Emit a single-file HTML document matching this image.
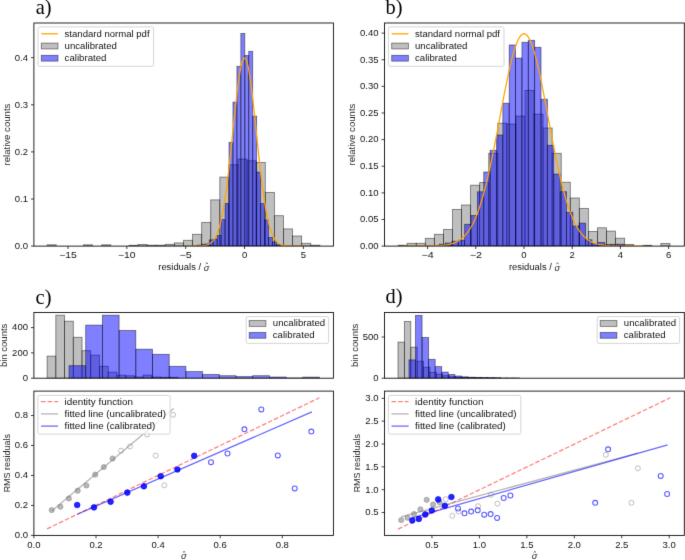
<!DOCTYPE html><html><head><meta charset="utf-8"><style>html,body{margin:0;padding:0;background:#fff;}svg{display:block;font-family:"Liberation Sans",sans-serif;}</style></head><body>
<div id="w"><svg width="685" height="560" viewBox="0 0 685 560">
<defs><filter id="soft" x="0" y="0" width="685" height="560" filterUnits="userSpaceOnUse" color-interpolation-filters="sRGB"><feConvolveMatrix order="3" kernelMatrix="0 1 0 1 8 1 0 1 0" divisor="12" edgeMode="duplicate"/></filter></defs>
<g filter="url(#soft)">
<rect width="685" height="560" fill="#fff"/>
<defs><clipPath id="ca"><rect x="33.9" y="23" width="299.5" height="223.1"/></clipPath><clipPath id="cb"><rect x="384.45" y="23" width="299.85" height="223.1"/></clipPath><clipPath id="cch"><rect x="33.8" y="312.5" width="299.6" height="65.7"/></clipPath><clipPath id="ccs"><rect x="33.9" y="391.1" width="299.5" height="144.3"/></clipPath><clipPath id="cdh"><rect x="384.5" y="312.5" width="299.8" height="65.7"/></clipPath><clipPath id="cds"><rect x="384.5" y="391.1" width="299.8" height="144.3"/></clipPath></defs>
<g fill="#808080" fill-opacity="0.5" stroke="#000" stroke-opacity="0.5" stroke-width="0.83" clip-path="url(#ca)">
<rect x="47.13" y="244.8" width="9.09" height="1.3"/>
<rect x="83.49" y="244.8" width="9.09" height="1.3"/>
<rect x="101.67" y="244.8" width="9.09" height="1.3"/>
<rect x="128.94" y="245.3" width="9.09" height="0.8"/>
<rect x="138.03" y="244.5" width="9.09" height="1.6"/>
<rect x="147.12" y="245.2" width="9.09" height="0.9"/>
<rect x="156.21" y="245.2" width="9.09" height="0.9"/>
<rect x="165.3" y="244.3" width="9.09" height="1.8"/>
<rect x="174.39" y="242.9" width="9.09" height="3.2"/>
<rect x="183.48" y="240.3" width="9.09" height="5.8"/>
<rect x="192.57" y="234.3" width="9.09" height="11.8"/>
<rect x="201.66" y="222.4" width="9.09" height="23.7"/>
<rect x="210.75" y="199.9" width="9.09" height="46.2"/>
<rect x="219.84" y="177.1" width="9.09" height="69"/>
<rect x="228.93" y="164.8" width="9.09" height="81.3"/>
<rect x="238.02" y="159.1" width="9.09" height="87"/>
<rect x="247.11" y="160.8" width="9.09" height="85.3"/>
<rect x="256.2" y="162.5" width="9.09" height="83.6"/>
<rect x="265.29" y="192.4" width="9.09" height="53.7"/>
<rect x="274.38" y="215.7" width="9.09" height="30.4"/>
<rect x="283.47" y="228.9" width="9.09" height="17.2"/>
<rect x="292.56" y="236" width="9.09" height="10.1"/>
<rect x="301.65" y="243.3" width="9.09" height="2.8"/>
<rect x="310.74" y="245.2" width="9.09" height="0.9"/>
</g>
<g fill="#0000ff" fill-opacity="0.5" stroke="#000" stroke-opacity="0.5" stroke-width="0.83" clip-path="url(#ca)">
<rect x="197.4" y="245.2" width="3.95" height="0.9"/>
<rect x="201.35" y="244.2" width="3.95" height="1.9"/>
<rect x="205.3" y="243.9" width="3.95" height="2.2"/>
<rect x="209.25" y="239.9" width="3.95" height="6.2"/>
<rect x="213.2" y="239.1" width="3.95" height="7"/>
<rect x="217.15" y="235.5" width="3.95" height="10.6"/>
<rect x="221.1" y="219.5" width="3.95" height="26.6"/>
<rect x="225.05" y="203.4" width="3.95" height="42.7"/>
<rect x="229" y="142.4" width="3.95" height="103.7"/>
<rect x="232.95" y="102.1" width="3.95" height="144"/>
<rect x="236.9" y="66.3" width="3.95" height="179.8"/>
<rect x="240.85" y="33.4" width="3.95" height="212.7"/>
<rect x="244.8" y="55.5" width="3.95" height="190.6"/>
<rect x="248.75" y="51.3" width="3.95" height="194.8"/>
<rect x="252.7" y="116.1" width="3.95" height="130"/>
<rect x="256.65" y="172.1" width="3.95" height="74"/>
<rect x="260.6" y="203.6" width="3.95" height="42.5"/>
<rect x="264.55" y="220" width="3.95" height="26.1"/>
<rect x="268.5" y="237.4" width="3.95" height="8.7"/>
<rect x="272.45" y="241.9" width="3.95" height="4.2"/>
<rect x="276.4" y="244.6" width="3.95" height="1.5"/>
</g>
<polyline points="185.7,246.1 186.29,246.1 186.88,246.1 187.47,246.1 188.05,246.1 188.64,246.1 189.23,246.1 189.82,246.1 190.41,246.1 191,246.09 191.59,246.09 192.17,246.09 192.76,246.09 193.35,246.09 193.94,246.08 194.53,246.08 195.12,246.07 195.7,246.07 196.29,246.06 196.88,246.05 197.47,246.04 198.06,246.02 198.65,246.01 199.24,245.99 199.82,245.96 200.41,245.93 201,245.9 201.59,245.86 202.18,245.81 202.77,245.76 203.36,245.69 203.94,245.61 204.53,245.52 205.12,245.41 205.71,245.29 206.3,245.14 206.89,244.98 207.47,244.78 208.06,244.56 208.65,244.31 209.24,244.01 209.83,243.68 210.42,243.3 211.01,242.86 211.59,242.37 212.18,241.82 212.77,241.19 213.36,240.49 213.95,239.7 214.54,238.82 215.12,237.84 215.71,236.76 216.3,235.55 216.89,234.22 217.48,232.76 218.07,231.15 218.66,229.39 219.24,227.47 219.83,225.38 220.42,223.12 221.01,220.67 221.6,218.03 222.19,215.19 222.78,212.16 223.36,208.91 223.95,205.46 224.54,201.8 225.13,197.93 225.72,193.86 226.31,189.58 226.9,185.1 227.48,180.43 228.07,175.58 228.66,170.56 229.25,165.39 229.84,160.07 230.43,154.64 231.01,149.1 231.6,143.49 232.19,137.83 232.78,132.13 233.37,126.44 233.96,120.77 234.55,115.17 235.13,109.66 235.72,104.26 236.31,99.03 236.9,93.98 237.49,89.15 238.08,84.57 238.67,80.28 239.25,76.29 239.84,72.64 240.43,69.36 241.02,66.47 241.61,63.98 242.2,61.92 242.78,60.3 243.37,59.14 243.96,58.43 244.55,58.2 245.14,58.43 245.73,59.14 246.32,60.3 246.9,61.92 247.49,63.98 248.08,66.47 248.67,69.36 249.26,72.64 249.85,76.29 250.44,80.28 251.02,84.57 251.61,89.15 252.2,93.98 252.79,99.03 253.38,104.26 253.97,109.66 254.55,115.17 255.14,120.77 255.73,126.44 256.32,132.13 256.91,137.83 257.5,143.49 258.09,149.1 258.67,154.64 259.26,160.07 259.85,165.39 260.44,170.56 261.03,175.58 261.62,180.43 262.21,185.1 262.79,189.58 263.38,193.86 263.97,197.93 264.56,201.8 265.15,205.46 265.74,208.91 266.32,212.16 266.91,215.19 267.5,218.03 268.09,220.67 268.68,223.12 269.27,225.38 269.86,227.47 270.44,229.39 271.03,231.15 271.62,232.76 272.21,234.22 272.8,235.55 273.39,236.76 273.98,237.84 274.56,238.82 275.15,239.7 275.74,240.49 276.33,241.19 276.92,241.82 277.51,242.37 278.09,242.86 278.68,243.3 279.27,243.68 279.86,244.01 280.45,244.31 281.04,244.56 281.63,244.78 282.21,244.98 282.8,245.14 283.39,245.29 283.98,245.41 284.57,245.52 285.16,245.61 285.75,245.69 286.33,245.76 286.92,245.81 287.51,245.86 288.1,245.9 288.69,245.93 289.28,245.96 289.86,245.99 290.45,246.01 291.04,246.02 291.63,246.04 292.22,246.05 292.81,246.06 293.4,246.07 293.98,246.07 294.57,246.08 295.16,246.08 295.75,246.09 296.34,246.09 296.93,246.09 297.51,246.09 298.1,246.09 298.69,246.1 299.28,246.1 299.87,246.1 300.46,246.1 301.05,246.1 301.63,246.1 302.22,246.1 302.81,246.1 303.4,246.1" fill="none" stroke="#ffa500" stroke-width="1.25" stroke-linejoin="round" clip-path="url(#ca)"/>
<rect x="33.9" y="23" width="299.5" height="223.1" fill="none" stroke="#000" stroke-width="0.85"/>
<line x1="30.98" y1="246.1" x2="33.9" y2="246.1" stroke="#000" stroke-width="0.75"/>
<text x="28" y="248.9" text-anchor="end" font-size="8.9" textLength="13.25" lengthAdjust="spacingAndGlyphs" fill="#111">0.0</text>
<line x1="30.98" y1="199" x2="33.9" y2="199" stroke="#000" stroke-width="0.75"/>
<text x="28" y="201.8" text-anchor="end" font-size="8.9" textLength="13.25" lengthAdjust="spacingAndGlyphs" fill="#111">0.1</text>
<line x1="30.98" y1="151.9" x2="33.9" y2="151.9" stroke="#000" stroke-width="0.75"/>
<text x="28" y="154.7" text-anchor="end" font-size="8.9" textLength="13.25" lengthAdjust="spacingAndGlyphs" fill="#111">0.2</text>
<line x1="30.98" y1="104.8" x2="33.9" y2="104.8" stroke="#000" stroke-width="0.75"/>
<text x="28" y="107.6" text-anchor="end" font-size="8.9" textLength="13.25" lengthAdjust="spacingAndGlyphs" fill="#111">0.3</text>
<line x1="30.98" y1="57.7" x2="33.9" y2="57.7" stroke="#000" stroke-width="0.75"/>
<text x="28" y="60.5" text-anchor="end" font-size="8.9" textLength="13.25" lengthAdjust="spacingAndGlyphs" fill="#111">0.4</text>
<line x1="68" y1="246.1" x2="68" y2="249.02" stroke="#000" stroke-width="0.75"/>
<text x="68" y="258.3" text-anchor="middle" font-size="8.9" textLength="17.58" lengthAdjust="spacingAndGlyphs" fill="#111">&#8722;15</text>
<line x1="126.85" y1="246.1" x2="126.85" y2="249.02" stroke="#000" stroke-width="0.75"/>
<text x="126.85" y="258.3" text-anchor="middle" font-size="8.9" textLength="17.58" lengthAdjust="spacingAndGlyphs" fill="#111">&#8722;10</text>
<line x1="185.7" y1="246.1" x2="185.7" y2="249.02" stroke="#000" stroke-width="0.75"/>
<text x="185.7" y="258.3" text-anchor="middle" font-size="8.9" textLength="12.28" lengthAdjust="spacingAndGlyphs" fill="#111">&#8722;5</text>
<line x1="244.55" y1="246.1" x2="244.55" y2="249.02" stroke="#000" stroke-width="0.75"/>
<text x="244.55" y="258.3" text-anchor="middle" font-size="8.9" textLength="5.3" lengthAdjust="spacingAndGlyphs" fill="#111">0</text>
<line x1="303.4" y1="246.1" x2="303.4" y2="249.02" stroke="#000" stroke-width="0.75"/>
<text x="303.4" y="258.3" text-anchor="middle" font-size="8.9" textLength="5.3" lengthAdjust="spacingAndGlyphs" fill="#111">5</text>
<text transform="translate(9.6,134.55) rotate(-90)" x="0" y="0" text-anchor="middle" font-size="8.9" textLength="61.91" lengthAdjust="spacingAndGlyphs" fill="#262626">relative counts</text>
<text x="158.26" y="270.2" text-anchor="start" font-size="8.9" textLength="45.45" lengthAdjust="spacingAndGlyphs" fill="#111">residuals&#160;/&#160;</text>
<text x="203.71" y="270.5" font-size="9.3" font-style="italic" fill="#262626">&#963;</text>
<path d="M205.61 263.9 L206.81 262.8 L208.01 263.9" fill="none" stroke="#262626" stroke-width="0.8"/>
<rect x="38" y="26.9" width="115.6" height="39.4" rx="1.7" fill="#fff" fill-opacity="0.8" stroke="#cccccc" stroke-width="0.83"/>
<line x1="41.3" y1="33.8" x2="58" y2="33.8" stroke="#ffa500" stroke-width="1.25"/>
<rect x="41.3" y="43.1" width="16.7" height="5.83" fill="#808080" fill-opacity="0.5" stroke="#000" stroke-opacity="0.5" stroke-width="0.83"/>
<rect x="41.3" y="55.3" width="16.7" height="5.83" fill="#0000ff" fill-opacity="0.5" stroke="#000" stroke-opacity="0.5" stroke-width="0.83"/>
<text x="64.6" y="36.8" text-anchor="start" font-size="8.9" textLength="84.94" lengthAdjust="spacingAndGlyphs" fill="#111">standard&#160;normal&#160;pdf</text>
<text x="64.6" y="49" text-anchor="start" font-size="8.9" textLength="52.37" lengthAdjust="spacingAndGlyphs" fill="#111">uncalibrated</text>
<text x="64.6" y="61.2" text-anchor="start" font-size="8.9" textLength="41.81" lengthAdjust="spacingAndGlyphs" fill="#111">calibrated</text>
<text x="35.7" y="14.4" font-family="Liberation Serif, serif" font-size="20.4" fill="#000">a)</text>
<g fill="#808080" fill-opacity="0.5" stroke="#000" stroke-opacity="0.5" stroke-width="0.83" clip-path="url(#cb)">
<rect x="398.14" y="245.2" width="9.06" height="0.9"/>
<rect x="407.2" y="243.3" width="9.06" height="2.8"/>
<rect x="416.26" y="243.3" width="9.06" height="2.8"/>
<rect x="425.32" y="238.3" width="9.06" height="7.8"/>
<rect x="434.38" y="234.3" width="9.06" height="11.8"/>
<rect x="443.44" y="229.5" width="9.06" height="16.6"/>
<rect x="452.5" y="209.4" width="9.06" height="36.7"/>
<rect x="461.56" y="205" width="9.06" height="41.1"/>
<rect x="470.62" y="185.2" width="9.06" height="60.9"/>
<rect x="479.68" y="182.5" width="9.06" height="63.6"/>
<rect x="488.74" y="153.3" width="9.06" height="92.8"/>
<rect x="497.8" y="123.2" width="9.06" height="122.9"/>
<rect x="506.86" y="124" width="9.06" height="122.1"/>
<rect x="515.92" y="116.1" width="9.06" height="130"/>
<rect x="524.98" y="90.4" width="9.06" height="155.7"/>
<rect x="534.04" y="114.2" width="9.06" height="131.9"/>
<rect x="543.1" y="128" width="9.06" height="118.1"/>
<rect x="552.16" y="153.3" width="9.06" height="92.8"/>
<rect x="561.22" y="182.2" width="9.06" height="63.9"/>
<rect x="570.28" y="198" width="9.06" height="48.1"/>
<rect x="579.34" y="208.4" width="9.06" height="37.7"/>
<rect x="588.4" y="231.4" width="9.06" height="14.7"/>
<rect x="597.46" y="227.8" width="9.06" height="18.3"/>
<rect x="606.52" y="231.1" width="9.06" height="15"/>
<rect x="615.58" y="238.2" width="9.06" height="7.9"/>
<rect x="624.64" y="244.4" width="9.06" height="1.7"/>
<rect x="642.76" y="245.3" width="9.06" height="0.8"/>
<rect x="660.88" y="243.5" width="9.06" height="2.6"/>
</g>
<g fill="#0000ff" fill-opacity="0.5" stroke="#000" stroke-opacity="0.5" stroke-width="0.83" clip-path="url(#cb)">
<rect x="439.18" y="244.2" width="6.365" height="1.9"/>
<rect x="445.55" y="243" width="6.365" height="3.1"/>
<rect x="451.91" y="241.2" width="6.365" height="4.9"/>
<rect x="458.28" y="240.2" width="6.365" height="5.9"/>
<rect x="464.64" y="224.3" width="6.365" height="21.8"/>
<rect x="471" y="215.5" width="6.365" height="30.6"/>
<rect x="477.37" y="191.8" width="6.365" height="54.3"/>
<rect x="483.74" y="172" width="6.365" height="74.1"/>
<rect x="490.1" y="150.3" width="6.365" height="95.8"/>
<rect x="496.47" y="135" width="6.365" height="111.1"/>
<rect x="502.83" y="103.2" width="6.365" height="142.9"/>
<rect x="509.2" y="45" width="6.365" height="201.1"/>
<rect x="515.56" y="58.1" width="6.365" height="188"/>
<rect x="521.93" y="42.3" width="6.365" height="203.8"/>
<rect x="528.29" y="40.3" width="6.365" height="205.8"/>
<rect x="534.65" y="47.3" width="6.365" height="198.8"/>
<rect x="541.02" y="99.2" width="6.365" height="146.9"/>
<rect x="547.38" y="145.3" width="6.365" height="100.8"/>
<rect x="553.75" y="174" width="6.365" height="72.1"/>
<rect x="560.12" y="191.7" width="6.365" height="54.4"/>
<rect x="566.48" y="212.3" width="6.365" height="33.8"/>
<rect x="572.85" y="226" width="6.365" height="20.1"/>
<rect x="579.21" y="223.1" width="6.365" height="23"/>
<rect x="585.58" y="239.8" width="6.365" height="6.3"/>
<rect x="591.94" y="243.7" width="6.365" height="2.4"/>
<rect x="598.31" y="242.5" width="6.365" height="3.6"/>
<rect x="604.67" y="244.5" width="6.365" height="1.6"/>
<rect x="611.04" y="244.3" width="6.365" height="1.8"/>
<rect x="617.4" y="244.2" width="6.365" height="1.9"/>
</g>
<polyline points="403.5,246.1 404.7,246.1 405.91,246.1 407.12,246.1 408.32,246.1 409.52,246.1 410.73,246.1 411.94,246.1 413.14,246.09 414.35,246.09 415.55,246.09 416.75,246.09 417.96,246.09 419.17,246.08 420.37,246.08 421.57,246.07 422.78,246.07 423.99,246.06 425.19,246.05 426.39,246.04 427.6,246.03 428.81,246.01 430.01,245.99 431.21,245.97 432.42,245.94 433.62,245.91 434.83,245.87 436.03,245.83 437.24,245.77 438.44,245.71 439.65,245.64 440.86,245.55 442.06,245.44 443.26,245.32 444.47,245.18 445.68,245.02 446.88,244.83 448.08,244.61 449.29,244.36 450.5,244.07 451.7,243.74 452.9,243.36 454.11,242.93 455.31,242.44 456.52,241.89 457.73,241.26 458.93,240.55 460.13,239.76 461.34,238.87 462.55,237.87 463.75,236.77 464.95,235.54 466.16,234.17 467.37,232.67 468.57,231.02 469.77,229.2 470.98,227.21 472.19,225.04 473.39,222.68 474.6,220.12 475.8,217.35 477,214.37 478.21,211.16 479.41,207.73 480.62,204.06 481.82,200.16 483.03,196.02 484.24,191.64 485.44,187.03 486.64,182.2 487.85,177.13 489.06,171.85 490.26,166.37 491.46,160.7 492.67,154.85 493.88,148.84 495.08,142.7 496.29,136.44 497.49,130.09 498.69,123.69 499.9,117.25 501.11,110.81 502.31,104.41 503.51,98.07 504.72,91.84 505.93,85.74 507.13,79.82 508.33,74.12 509.54,68.66 510.75,63.48 511.95,58.63 513.15,54.12 514.36,50 515.57,46.28 516.77,43.01 517.98,40.2 519.18,37.87 520.38,36.04 521.59,34.72 522.79,33.93 524,33.66 525.21,33.93 526.41,34.72 527.62,36.04 528.82,37.87 530.02,40.2 531.23,43.01 532.43,46.28 533.64,50 534.85,54.12 536.05,58.63 537.25,63.48 538.46,68.66 539.66,74.12 540.87,79.82 542.08,85.74 543.28,91.84 544.49,98.07 545.69,104.41 546.89,110.81 548.1,117.25 549.3,123.69 550.51,130.09 551.72,136.44 552.92,142.7 554.12,148.84 555.33,154.85 556.53,160.7 557.74,166.37 558.95,171.85 560.15,177.13 561.36,182.2 562.56,187.03 563.76,191.64 564.97,196.02 566.17,200.16 567.38,204.06 568.59,207.73 569.79,211.16 571,214.37 572.2,217.35 573.4,220.12 574.61,222.68 575.82,225.04 577.02,227.21 578.23,229.2 579.43,231.02 580.63,232.67 581.84,234.17 583.04,235.54 584.25,236.77 585.46,237.87 586.66,238.87 587.87,239.76 589.07,240.55 590.27,241.26 591.48,241.89 592.68,242.44 593.89,242.93 595.1,243.36 596.3,243.74 597.5,244.07 598.71,244.36 599.91,244.61 601.12,244.83 602.33,245.02 603.53,245.18 604.74,245.32 605.94,245.44 607.14,245.55 608.35,245.64 609.56,245.71 610.76,245.77 611.97,245.83 613.17,245.87 614.38,245.91 615.58,245.94 616.78,245.97 617.99,245.99 619.19,246.01 620.4,246.03 621.61,246.04 622.81,246.05 624.01,246.06 625.22,246.07 626.42,246.07 627.63,246.08 628.84,246.08 630.04,246.09 631.25,246.09 632.45,246.09 633.65,246.09 634.86,246.09 636.07,246.1 637.27,246.1 638.48,246.1 639.68,246.1 640.88,246.1 642.09,246.1 643.29,246.1 644.5,246.1" fill="none" stroke="#ffa500" stroke-width="1.25" stroke-linejoin="round" clip-path="url(#cb)"/>
<rect x="384.45" y="23" width="299.85" height="223.1" fill="none" stroke="#000" stroke-width="0.85"/>
<line x1="381.53" y1="246.1" x2="384.45" y2="246.1" stroke="#000" stroke-width="0.75"/>
<text x="378.55" y="248.9" text-anchor="end" font-size="8.9" textLength="18.55" lengthAdjust="spacingAndGlyphs" fill="#111">0.00</text>
<line x1="381.53" y1="219.47" x2="384.45" y2="219.47" stroke="#000" stroke-width="0.75"/>
<text x="378.55" y="222.28" text-anchor="end" font-size="8.9" textLength="18.55" lengthAdjust="spacingAndGlyphs" fill="#111">0.05</text>
<line x1="381.53" y1="192.85" x2="384.45" y2="192.85" stroke="#000" stroke-width="0.75"/>
<text x="378.55" y="195.65" text-anchor="end" font-size="8.9" textLength="18.55" lengthAdjust="spacingAndGlyphs" fill="#111">0.10</text>
<line x1="381.53" y1="166.22" x2="384.45" y2="166.22" stroke="#000" stroke-width="0.75"/>
<text x="378.55" y="169.03" text-anchor="end" font-size="8.9" textLength="18.55" lengthAdjust="spacingAndGlyphs" fill="#111">0.15</text>
<line x1="381.53" y1="139.6" x2="384.45" y2="139.6" stroke="#000" stroke-width="0.75"/>
<text x="378.55" y="142.4" text-anchor="end" font-size="8.9" textLength="18.55" lengthAdjust="spacingAndGlyphs" fill="#111">0.20</text>
<line x1="381.53" y1="112.97" x2="384.45" y2="112.97" stroke="#000" stroke-width="0.75"/>
<text x="378.55" y="115.77" text-anchor="end" font-size="8.9" textLength="18.55" lengthAdjust="spacingAndGlyphs" fill="#111">0.25</text>
<line x1="381.53" y1="86.35" x2="384.45" y2="86.35" stroke="#000" stroke-width="0.75"/>
<text x="378.55" y="89.15" text-anchor="end" font-size="8.9" textLength="18.55" lengthAdjust="spacingAndGlyphs" fill="#111">0.30</text>
<line x1="381.53" y1="59.72" x2="384.45" y2="59.72" stroke="#000" stroke-width="0.75"/>
<text x="378.55" y="62.52" text-anchor="end" font-size="8.9" textLength="18.55" lengthAdjust="spacingAndGlyphs" fill="#111">0.35</text>
<line x1="381.53" y1="33.1" x2="384.45" y2="33.1" stroke="#000" stroke-width="0.75"/>
<text x="378.55" y="35.9" text-anchor="end" font-size="8.9" textLength="18.55" lengthAdjust="spacingAndGlyphs" fill="#111">0.40</text>
<line x1="427.6" y1="246.1" x2="427.6" y2="249.02" stroke="#000" stroke-width="0.75"/>
<text x="427.6" y="258.3" text-anchor="middle" font-size="8.9" textLength="12.28" lengthAdjust="spacingAndGlyphs" fill="#111">&#8722;4</text>
<line x1="475.8" y1="246.1" x2="475.8" y2="249.02" stroke="#000" stroke-width="0.75"/>
<text x="475.8" y="258.3" text-anchor="middle" font-size="8.9" textLength="12.28" lengthAdjust="spacingAndGlyphs" fill="#111">&#8722;2</text>
<line x1="524" y1="246.1" x2="524" y2="249.02" stroke="#000" stroke-width="0.75"/>
<text x="524" y="258.3" text-anchor="middle" font-size="8.9" textLength="5.3" lengthAdjust="spacingAndGlyphs" fill="#111">0</text>
<line x1="572.2" y1="246.1" x2="572.2" y2="249.02" stroke="#000" stroke-width="0.75"/>
<text x="572.2" y="258.3" text-anchor="middle" font-size="8.9" textLength="5.3" lengthAdjust="spacingAndGlyphs" fill="#111">2</text>
<line x1="620.4" y1="246.1" x2="620.4" y2="249.02" stroke="#000" stroke-width="0.75"/>
<text x="620.4" y="258.3" text-anchor="middle" font-size="8.9" textLength="5.3" lengthAdjust="spacingAndGlyphs" fill="#111">4</text>
<line x1="668.6" y1="246.1" x2="668.6" y2="249.02" stroke="#000" stroke-width="0.75"/>
<text x="668.6" y="258.3" text-anchor="middle" font-size="8.9" textLength="5.3" lengthAdjust="spacingAndGlyphs" fill="#111">6</text>
<text transform="translate(355.3,134.55) rotate(-90)" x="0" y="0" text-anchor="middle" font-size="8.9" textLength="61.91" lengthAdjust="spacingAndGlyphs" fill="#262626">relative counts</text>
<text x="508.98" y="270.2" text-anchor="start" font-size="8.9" textLength="45.45" lengthAdjust="spacingAndGlyphs" fill="#111">residuals&#160;/&#160;</text>
<text x="554.43" y="270.5" font-size="9.3" font-style="italic" fill="#262626">&#963;</text>
<path d="M556.33 263.9 L557.53 262.8 L558.73 263.9" fill="none" stroke="#262626" stroke-width="0.8"/>
<rect x="388.4" y="26.9" width="115.6" height="39.4" rx="1.7" fill="#fff" fill-opacity="0.8" stroke="#cccccc" stroke-width="0.83"/>
<line x1="391.7" y1="33.8" x2="408.4" y2="33.8" stroke="#ffa500" stroke-width="1.25"/>
<rect x="391.7" y="43.1" width="16.7" height="5.83" fill="#808080" fill-opacity="0.5" stroke="#000" stroke-opacity="0.5" stroke-width="0.83"/>
<rect x="391.7" y="55.3" width="16.7" height="5.83" fill="#0000ff" fill-opacity="0.5" stroke="#000" stroke-opacity="0.5" stroke-width="0.83"/>
<text x="415" y="36.8" text-anchor="start" font-size="8.9" textLength="84.94" lengthAdjust="spacingAndGlyphs" fill="#111">standard&#160;normal&#160;pdf</text>
<text x="415" y="49" text-anchor="start" font-size="8.9" textLength="52.37" lengthAdjust="spacingAndGlyphs" fill="#111">uncalibrated</text>
<text x="415" y="61.2" text-anchor="start" font-size="8.9" textLength="41.81" lengthAdjust="spacingAndGlyphs" fill="#111">calibrated</text>
<text x="385.6" y="14.4" font-family="Liberation Serif, serif" font-size="20.4" fill="#000">b)</text>
<g fill="#808080" fill-opacity="0.5" stroke="#000" stroke-opacity="0.5" stroke-width="0.83" clip-path="url(#cch)">
<rect x="47.1" y="356.1" width="8.73" height="22.1"/>
<rect x="55.83" y="315.2" width="8.73" height="63"/>
<rect x="64.56" y="321.2" width="8.73" height="57"/>
<rect x="73.29" y="337.3" width="8.73" height="40.9"/>
<rect x="82.02" y="350.7" width="8.73" height="27.5"/>
<rect x="90.75" y="355.1" width="8.73" height="23.1"/>
<rect x="99.48" y="366.3" width="8.73" height="11.9"/>
<rect x="108.21" y="372.1" width="8.73" height="6.1"/>
<rect x="116.94" y="375.1" width="8.73" height="3.1"/>
<rect x="125.67" y="375.8" width="8.73" height="2.4"/>
<rect x="134.4" y="377" width="8.73" height="1.2"/>
<rect x="143.13" y="375.1" width="8.73" height="3.1"/>
<rect x="151.86" y="377" width="8.73" height="1.2"/>
<rect x="160.59" y="377.3" width="8.73" height="0.9"/>
<rect x="169.32" y="377.3" width="8.73" height="0.9"/>
</g>
<g fill="#0000ff" fill-opacity="0.5" stroke="#000" stroke-opacity="0.5" stroke-width="0.83" clip-path="url(#cch)">
<rect x="69" y="365.7" width="16.7" height="12.5"/>
<rect x="85.7" y="325.1" width="16.7" height="53.1"/>
<rect x="102.4" y="315.2" width="16.7" height="63"/>
<rect x="119.1" y="330.5" width="16.7" height="47.7"/>
<rect x="135.8" y="349.2" width="16.7" height="29"/>
<rect x="152.5" y="354.3" width="16.7" height="23.9"/>
<rect x="169.2" y="366.3" width="16.7" height="11.9"/>
<rect x="185.9" y="371.6" width="16.7" height="6.6"/>
<rect x="202.6" y="374.5" width="16.7" height="3.7"/>
<rect x="219.3" y="375.7" width="16.7" height="2.5"/>
<rect x="236" y="376.6" width="16.7" height="1.6"/>
<rect x="252.7" y="375.7" width="16.7" height="2.5"/>
<rect x="269.4" y="377" width="16.7" height="1.2"/>
<rect x="286.1" y="377.9" width="16.7" height="0.3"/>
<rect x="302.8" y="377.1" width="16.7" height="1.1"/>
</g>
<rect x="33.9" y="312.5" width="299.5" height="65.7" fill="none" stroke="#000" stroke-width="0.85"/>
<line x1="30.98" y1="378.2" x2="33.9" y2="378.2" stroke="#000" stroke-width="0.75"/>
<text x="28" y="381" text-anchor="end" font-size="8.9" textLength="5.3" lengthAdjust="spacingAndGlyphs" fill="#111">0</text>
<line x1="30.98" y1="352.9" x2="33.9" y2="352.9" stroke="#000" stroke-width="0.75"/>
<text x="28" y="355.7" text-anchor="end" font-size="8.9" textLength="15.9" lengthAdjust="spacingAndGlyphs" fill="#111">200</text>
<line x1="30.98" y1="327.6" x2="33.9" y2="327.6" stroke="#000" stroke-width="0.75"/>
<text x="28" y="330.4" text-anchor="end" font-size="8.9" textLength="15.9" lengthAdjust="spacingAndGlyphs" fill="#111">400</text>
<text transform="translate(6.9,345.35) rotate(-90)" x="0" y="0" text-anchor="middle" font-size="8.9" textLength="43.37" lengthAdjust="spacingAndGlyphs" fill="#262626">bin counts</text>
<rect x="246.2" y="316.6" width="82.4" height="26.8" rx="1.7" fill="#fff" fill-opacity="0.8" stroke="#cccccc" stroke-width="0.83"/>
<rect x="249.2" y="320.55" width="16.7" height="5.83" fill="#808080" fill-opacity="0.5" stroke="#000" stroke-opacity="0.5" stroke-width="0.83"/>
<rect x="249.2" y="332.4" width="16.7" height="5.83" fill="#0000ff" fill-opacity="0.5" stroke="#000" stroke-opacity="0.5" stroke-width="0.83"/>
<text x="272.8" y="326.45" text-anchor="start" font-size="8.9" textLength="52.37" lengthAdjust="spacingAndGlyphs" fill="#111">uncalibrated</text>
<text x="272.8" y="338.3" text-anchor="start" font-size="8.9" textLength="41.81" lengthAdjust="spacingAndGlyphs" fill="#111">calibrated</text>
<line x1="47" y1="528.9" x2="319.4" y2="397.8" stroke="#ff0000" stroke-opacity="0.5" stroke-width="1.25" stroke-dasharray="4.63 2" clip-path="url(#ccs)"/>
<line x1="51.7" y1="511.0" x2="173.7" y2="408.4" stroke="#808080" stroke-opacity="0.6" stroke-width="1.25" clip-path="url(#ccs)"/>
<line x1="77.2" y1="514.3" x2="311.9" y2="411.9" stroke="#0000ff" stroke-opacity="0.6" stroke-width="1.25" clip-path="url(#ccs)"/>
<g fill="#808080" fill-opacity="0.55" stroke="#808080" stroke-opacity="0.6" stroke-width="0.83" clip-path="url(#ccs)">
<circle cx="51.7" cy="510.1" r="2.6"/>
<circle cx="60.4" cy="506.7" r="2.6"/>
<circle cx="68.9" cy="498.4" r="2.6"/>
<circle cx="77.7" cy="490.7" r="2.6"/>
<circle cx="86.4" cy="485.5" r="2.6"/>
<circle cx="95.2" cy="474.6" r="2.6"/>
<circle cx="103.8" cy="467" r="2.6"/>
<circle cx="112.6" cy="458.5" r="2.6"/>
</g>
<g fill="none" stroke="#808080" stroke-opacity="0.6" stroke-width="0.83" clip-path="url(#ccs)">
<circle cx="121" cy="450.7" r="2.5"/>
<circle cx="130" cy="446.5" r="2.5"/>
<circle cx="138.7" cy="416.6" r="2.5"/>
<circle cx="147.1" cy="434.5" r="2.5"/>
<circle cx="155.7" cy="455.6" r="2.5"/>
<circle cx="164.3" cy="485.3" r="2.5"/>
<circle cx="173.1" cy="414.8" r="2.5"/>
</g>
<g fill="#0000ff" fill-opacity="0.85" stroke="#0000ff" stroke-opacity="0.85" stroke-width="0.83" clip-path="url(#ccs)">
<circle cx="77.2" cy="505" r="2.8"/>
<circle cx="94" cy="507.4" r="2.8"/>
<circle cx="110.6" cy="501.7" r="2.8"/>
<circle cx="127.3" cy="492.6" r="2.8"/>
<circle cx="143.9" cy="486.3" r="2.8"/>
<circle cx="160.7" cy="476.2" r="2.8"/>
<circle cx="177.4" cy="469.5" r="2.8"/>
<circle cx="194.2" cy="455.8" r="2.8"/>
</g>
<g fill="none" stroke="#0000ff" stroke-opacity="0.65" stroke-width="1.1" clip-path="url(#ccs)">
<circle cx="211" cy="462.2" r="2.45"/>
<circle cx="227.5" cy="453.5" r="2.45"/>
<circle cx="244.4" cy="429.3" r="2.45"/>
<circle cx="261.3" cy="409.4" r="2.45"/>
<circle cx="277.8" cy="455.4" r="2.45"/>
<circle cx="294.7" cy="488.4" r="2.45"/>
<circle cx="311.3" cy="431.6" r="2.45"/>
</g>
<rect x="33.9" y="391.1" width="299.5" height="144.3" fill="none" stroke="#000" stroke-width="0.85"/>
<line x1="30.98" y1="535.4" x2="33.9" y2="535.4" stroke="#000" stroke-width="0.75"/>
<text x="28" y="538.2" text-anchor="end" font-size="8.9" textLength="13.25" lengthAdjust="spacingAndGlyphs" fill="#111">0.0</text>
<line x1="30.98" y1="505.42" x2="33.9" y2="505.42" stroke="#000" stroke-width="0.75"/>
<text x="28" y="508.22" text-anchor="end" font-size="8.9" textLength="13.25" lengthAdjust="spacingAndGlyphs" fill="#111">0.2</text>
<line x1="30.98" y1="475.44" x2="33.9" y2="475.44" stroke="#000" stroke-width="0.75"/>
<text x="28" y="478.24" text-anchor="end" font-size="8.9" textLength="13.25" lengthAdjust="spacingAndGlyphs" fill="#111">0.4</text>
<line x1="30.98" y1="445.46" x2="33.9" y2="445.46" stroke="#000" stroke-width="0.75"/>
<text x="28" y="448.26" text-anchor="end" font-size="8.9" textLength="13.25" lengthAdjust="spacingAndGlyphs" fill="#111">0.6</text>
<line x1="30.98" y1="415.48" x2="33.9" y2="415.48" stroke="#000" stroke-width="0.75"/>
<text x="28" y="418.28" text-anchor="end" font-size="8.9" textLength="13.25" lengthAdjust="spacingAndGlyphs" fill="#111">0.8</text>
<line x1="33.9" y1="535.4" x2="33.9" y2="538.32" stroke="#000" stroke-width="0.75"/>
<text x="33.9" y="547.6" text-anchor="middle" font-size="8.9" textLength="13.25" lengthAdjust="spacingAndGlyphs" fill="#111">0.0</text>
<line x1="96" y1="535.4" x2="96" y2="538.32" stroke="#000" stroke-width="0.75"/>
<text x="96" y="547.6" text-anchor="middle" font-size="8.9" textLength="13.25" lengthAdjust="spacingAndGlyphs" fill="#111">0.2</text>
<line x1="158.1" y1="535.4" x2="158.1" y2="538.32" stroke="#000" stroke-width="0.75"/>
<text x="158.1" y="547.6" text-anchor="middle" font-size="8.9" textLength="13.25" lengthAdjust="spacingAndGlyphs" fill="#111">0.4</text>
<line x1="220.2" y1="535.4" x2="220.2" y2="538.32" stroke="#000" stroke-width="0.75"/>
<text x="220.2" y="547.6" text-anchor="middle" font-size="8.9" textLength="13.25" lengthAdjust="spacingAndGlyphs" fill="#111">0.6</text>
<line x1="282.3" y1="535.4" x2="282.3" y2="538.32" stroke="#000" stroke-width="0.75"/>
<text x="282.3" y="547.6" text-anchor="middle" font-size="8.9" textLength="13.25" lengthAdjust="spacingAndGlyphs" fill="#111">0.8</text>
<text transform="translate(9.9,463.25) rotate(-90)" x="0" y="0" text-anchor="middle" font-size="8.9" textLength="58.26" lengthAdjust="spacingAndGlyphs" fill="#262626">RMS residuals</text>
<text x="180.98" y="559.1" font-size="9.3" font-style="italic" fill="#262626">&#963;</text>
<path d="M182.88 552.5 L184.08 551.4 L185.28 552.5" fill="none" stroke="#262626" stroke-width="0.8"/>
<rect x="37.9" y="395.4" width="132.2" height="38.7" rx="1.7" fill="#fff" fill-opacity="0.8" stroke="#cccccc" stroke-width="0.83"/>
<line x1="41" y1="401.6" x2="58.1" y2="401.6" stroke="#ff0000" stroke-opacity="0.5" stroke-width="1.25" stroke-dasharray="4.63 2"/>
<line x1="41" y1="413.9" x2="58.1" y2="413.9" stroke="#808080" stroke-opacity="0.6" stroke-width="1.25"/>
<line x1="41" y1="426.1" x2="58.1" y2="426.1" stroke="#0000ff" stroke-opacity="0.6" stroke-width="1.25"/>
<text x="64.5" y="404.6" text-anchor="start" font-size="8.9" textLength="68.46" lengthAdjust="spacingAndGlyphs" fill="#111">identity&#160;function</text>
<text x="64.5" y="416.9" text-anchor="start" font-size="8.9" textLength="101.39" lengthAdjust="spacingAndGlyphs" fill="#111">fitted&#160;line&#160;(uncalibrated)</text>
<text x="64.5" y="429.1" text-anchor="start" font-size="8.9" textLength="90.83" lengthAdjust="spacingAndGlyphs" fill="#111">fitted&#160;line&#160;(calibrated)</text>
<text x="35.6" y="303.8" font-family="Liberation Serif, serif" font-size="20.4" fill="#000">c)</text>
<g fill="#808080" fill-opacity="0.5" stroke="#000" stroke-opacity="0.5" stroke-width="0.83" clip-path="url(#cdh)">
<rect x="398" y="342.1" width="6.39" height="36.1"/>
<rect x="404.39" y="321.5" width="6.39" height="56.7"/>
<rect x="410.78" y="347.2" width="6.39" height="31"/>
<rect x="417.17" y="361.2" width="6.39" height="17"/>
<rect x="423.56" y="367.2" width="6.39" height="11"/>
<rect x="429.95" y="372.3" width="6.39" height="5.9"/>
<rect x="436.34" y="374.1" width="6.39" height="4.1"/>
<rect x="442.73" y="375.7" width="6.39" height="2.5"/>
<rect x="449.12" y="376.8" width="6.39" height="1.4"/>
<rect x="455.51" y="377.3" width="6.39" height="0.9"/>
<rect x="461.9" y="377.5" width="6.39" height="0.7"/>
<rect x="468.29" y="377.7" width="6.39" height="0.5"/>
<rect x="474.68" y="377.7" width="6.39" height="0.5"/>
<rect x="481.07" y="377.8" width="6.39" height="0.4"/>
<rect x="487.46" y="377.8" width="6.39" height="0.4"/>
<rect x="493.85" y="377.9" width="6.39" height="0.3"/>
<rect x="500.24" y="377.9" width="6.39" height="0.3"/>
<rect x="506.63" y="377.9" width="6.39" height="0.3"/>
<rect x="513.02" y="377.9" width="6.39" height="0.3"/>
</g>
<g fill="#0000ff" fill-opacity="0.5" stroke="#000" stroke-opacity="0.5" stroke-width="0.83" clip-path="url(#cdh)">
<rect x="408.95" y="359.9" width="6.55" height="18.3"/>
<rect x="415.5" y="315.4" width="6.55" height="62.8"/>
<rect x="422.05" y="337.5" width="6.55" height="40.7"/>
<rect x="428.6" y="359.3" width="6.55" height="18.9"/>
<rect x="435.15" y="366.6" width="6.55" height="11.6"/>
<rect x="441.7" y="372.1" width="6.55" height="6.1"/>
<rect x="448.25" y="374.5" width="6.55" height="3.7"/>
<rect x="454.8" y="376" width="6.55" height="2.2"/>
<rect x="461.35" y="376.8" width="6.55" height="1.4"/>
<rect x="467.9" y="377.2" width="6.55" height="1"/>
<rect x="474.45" y="377.4" width="6.55" height="0.8"/>
<rect x="481" y="377.6" width="6.55" height="0.6"/>
<rect x="487.55" y="377.7" width="6.55" height="0.5"/>
<rect x="494.1" y="377.8" width="6.55" height="0.4"/>
</g>
<rect x="384.5" y="312.5" width="299.8" height="65.7" fill="none" stroke="#000" stroke-width="0.85"/>
<line x1="381.58" y1="378.2" x2="384.5" y2="378.2" stroke="#000" stroke-width="0.75"/>
<text x="378.6" y="381" text-anchor="end" font-size="8.9" textLength="5.3" lengthAdjust="spacingAndGlyphs" fill="#111">0</text>
<line x1="381.58" y1="337" x2="384.5" y2="337" stroke="#000" stroke-width="0.75"/>
<text x="378.6" y="339.8" text-anchor="end" font-size="8.9" textLength="15.9" lengthAdjust="spacingAndGlyphs" fill="#111">500</text>
<text transform="translate(358.4,345.35) rotate(-90)" x="0" y="0" text-anchor="middle" font-size="8.9" textLength="43.37" lengthAdjust="spacingAndGlyphs" fill="#262626">bin counts</text>
<rect x="597.2" y="316.6" width="82.4" height="26.8" rx="1.7" fill="#fff" fill-opacity="0.8" stroke="#cccccc" stroke-width="0.83"/>
<rect x="600.2" y="320.55" width="16.7" height="5.83" fill="#808080" fill-opacity="0.5" stroke="#000" stroke-opacity="0.5" stroke-width="0.83"/>
<rect x="600.2" y="332.4" width="16.7" height="5.83" fill="#0000ff" fill-opacity="0.5" stroke="#000" stroke-opacity="0.5" stroke-width="0.83"/>
<text x="623.8" y="326.45" text-anchor="start" font-size="8.9" textLength="52.37" lengthAdjust="spacingAndGlyphs" fill="#111">uncalibrated</text>
<text x="623.8" y="338.3" text-anchor="start" font-size="8.9" textLength="41.81" lengthAdjust="spacingAndGlyphs" fill="#111">calibrated</text>
<line x1="398" y1="529.1" x2="670.3" y2="397.8" stroke="#ff0000" stroke-opacity="0.5" stroke-width="1.25" stroke-dasharray="4.63 2" clip-path="url(#cds)"/>
<line x1="401.2" y1="516.8" x2="637.9" y2="453.0" stroke="#808080" stroke-opacity="0.6" stroke-width="1.25" clip-path="url(#cds)"/>
<line x1="412.3" y1="517.8" x2="667.6" y2="444.8" stroke="#0000ff" stroke-opacity="0.6" stroke-width="1.25" clip-path="url(#cds)"/>
<g fill="#808080" fill-opacity="0.55" stroke="#808080" stroke-opacity="0.6" stroke-width="0.83" clip-path="url(#cds)">
<circle cx="401.2" cy="520.1" r="2.6"/>
<circle cx="407.5" cy="517.7" r="2.6"/>
<circle cx="414" cy="514" r="2.6"/>
<circle cx="420.4" cy="509.3" r="2.6"/>
<circle cx="426.7" cy="499.8" r="2.6"/>
<circle cx="433.1" cy="504.5" r="2.6"/>
<circle cx="439.6" cy="502.2" r="2.6"/>
</g>
<g fill="none" stroke="#808080" stroke-opacity="0.6" stroke-width="0.83" clip-path="url(#cds)">
<circle cx="445.8" cy="499.2" r="2.5"/>
<circle cx="452.3" cy="515.8" r="2.5"/>
<circle cx="458.5" cy="511.5" r="2.5"/>
<circle cx="478.1" cy="506.2" r="2.5"/>
<circle cx="491" cy="494.8" r="2.5"/>
<circle cx="497.4" cy="503.6" r="2.5"/>
<circle cx="605.8" cy="454.8" r="2.5"/>
<circle cx="631.4" cy="502.8" r="2.5"/>
<circle cx="637.9" cy="468.3" r="2.5"/>
</g>
<g fill="#0000ff" fill-opacity="0.85" stroke="#0000ff" stroke-opacity="0.85" stroke-width="0.83" clip-path="url(#cds)">
<circle cx="412.3" cy="520.4" r="2.8"/>
<circle cx="418.8" cy="518.9" r="2.8"/>
<circle cx="425.3" cy="514.4" r="2.8"/>
<circle cx="431.8" cy="510.5" r="2.8"/>
<circle cx="438.2" cy="499.4" r="2.8"/>
<circle cx="444.8" cy="505.8" r="2.8"/>
<circle cx="451.4" cy="497" r="2.8"/>
</g>
<g fill="none" stroke="#0000ff" stroke-opacity="0.65" stroke-width="1.1" clip-path="url(#cds)">
<circle cx="458" cy="508.5" r="2.45"/>
<circle cx="464.5" cy="513.3" r="2.45"/>
<circle cx="471.1" cy="511.6" r="2.45"/>
<circle cx="477.7" cy="510.2" r="2.45"/>
<circle cx="484.2" cy="514.7" r="2.45"/>
<circle cx="490.6" cy="514.1" r="2.45"/>
<circle cx="497.1" cy="517.9" r="2.45"/>
<circle cx="503.7" cy="498" r="2.45"/>
<circle cx="510.4" cy="495.5" r="2.45"/>
<circle cx="595.2" cy="502.8" r="2.45"/>
<circle cx="608.1" cy="449.3" r="2.45"/>
<circle cx="660.7" cy="475.9" r="2.45"/>
<circle cx="667.1" cy="494" r="2.45"/>
</g>
<rect x="384.5" y="391.1" width="299.8" height="144.3" fill="none" stroke="#000" stroke-width="0.85"/>
<line x1="381.58" y1="512.55" x2="384.5" y2="512.55" stroke="#000" stroke-width="0.75"/>
<text x="378.6" y="515.35" text-anchor="end" font-size="8.9" textLength="13.25" lengthAdjust="spacingAndGlyphs" fill="#111">0.5</text>
<line x1="381.58" y1="489.7" x2="384.5" y2="489.7" stroke="#000" stroke-width="0.75"/>
<text x="378.6" y="492.5" text-anchor="end" font-size="8.9" textLength="13.25" lengthAdjust="spacingAndGlyphs" fill="#111">1.0</text>
<line x1="381.58" y1="466.85" x2="384.5" y2="466.85" stroke="#000" stroke-width="0.75"/>
<text x="378.6" y="469.65" text-anchor="end" font-size="8.9" textLength="13.25" lengthAdjust="spacingAndGlyphs" fill="#111">1.5</text>
<line x1="381.58" y1="444" x2="384.5" y2="444" stroke="#000" stroke-width="0.75"/>
<text x="378.6" y="446.8" text-anchor="end" font-size="8.9" textLength="13.25" lengthAdjust="spacingAndGlyphs" fill="#111">2.0</text>
<line x1="381.58" y1="421.15" x2="384.5" y2="421.15" stroke="#000" stroke-width="0.75"/>
<text x="378.6" y="423.95" text-anchor="end" font-size="8.9" textLength="13.25" lengthAdjust="spacingAndGlyphs" fill="#111">2.5</text>
<line x1="381.58" y1="398.3" x2="384.5" y2="398.3" stroke="#000" stroke-width="0.75"/>
<text x="378.6" y="401.1" text-anchor="end" font-size="8.9" textLength="13.25" lengthAdjust="spacingAndGlyphs" fill="#111">3.0</text>
<line x1="431.95" y1="535.4" x2="431.95" y2="538.32" stroke="#000" stroke-width="0.75"/>
<text x="431.95" y="547.6" text-anchor="middle" font-size="8.9" textLength="13.25" lengthAdjust="spacingAndGlyphs" fill="#111">0.5</text>
<line x1="479.4" y1="535.4" x2="479.4" y2="538.32" stroke="#000" stroke-width="0.75"/>
<text x="479.4" y="547.6" text-anchor="middle" font-size="8.9" textLength="13.25" lengthAdjust="spacingAndGlyphs" fill="#111">1.0</text>
<line x1="526.85" y1="535.4" x2="526.85" y2="538.32" stroke="#000" stroke-width="0.75"/>
<text x="526.85" y="547.6" text-anchor="middle" font-size="8.9" textLength="13.25" lengthAdjust="spacingAndGlyphs" fill="#111">1.5</text>
<line x1="574.3" y1="535.4" x2="574.3" y2="538.32" stroke="#000" stroke-width="0.75"/>
<text x="574.3" y="547.6" text-anchor="middle" font-size="8.9" textLength="13.25" lengthAdjust="spacingAndGlyphs" fill="#111">2.0</text>
<line x1="621.75" y1="535.4" x2="621.75" y2="538.32" stroke="#000" stroke-width="0.75"/>
<text x="621.75" y="547.6" text-anchor="middle" font-size="8.9" textLength="13.25" lengthAdjust="spacingAndGlyphs" fill="#111">2.5</text>
<line x1="669.2" y1="535.4" x2="669.2" y2="538.32" stroke="#000" stroke-width="0.75"/>
<text x="669.2" y="547.6" text-anchor="middle" font-size="8.9" textLength="13.25" lengthAdjust="spacingAndGlyphs" fill="#111">3.0</text>
<text transform="translate(360.2,463.25) rotate(-90)" x="0" y="0" text-anchor="middle" font-size="8.9" textLength="58.26" lengthAdjust="spacingAndGlyphs" fill="#262626">RMS residuals</text>
<text x="531.73" y="559.1" font-size="9.3" font-style="italic" fill="#262626">&#963;</text>
<path d="M533.63 552.5 L534.83 551.4 L536.03 552.5" fill="none" stroke="#262626" stroke-width="0.8"/>
<rect x="388.4" y="395.4" width="132.4" height="38.7" rx="1.7" fill="#fff" fill-opacity="0.8" stroke="#cccccc" stroke-width="0.83"/>
<line x1="391.5" y1="401.6" x2="408.6" y2="401.6" stroke="#ff0000" stroke-opacity="0.5" stroke-width="1.25" stroke-dasharray="4.63 2"/>
<line x1="391.5" y1="413.9" x2="408.6" y2="413.9" stroke="#808080" stroke-opacity="0.6" stroke-width="1.25"/>
<line x1="391.5" y1="426.1" x2="408.6" y2="426.1" stroke="#0000ff" stroke-opacity="0.6" stroke-width="1.25"/>
<text x="415" y="404.6" text-anchor="start" font-size="8.9" textLength="68.46" lengthAdjust="spacingAndGlyphs" fill="#111">identity&#160;function</text>
<text x="415" y="416.9" text-anchor="start" font-size="8.9" textLength="101.39" lengthAdjust="spacingAndGlyphs" fill="#111">fitted&#160;line&#160;(uncalibrated)</text>
<text x="415" y="429.1" text-anchor="start" font-size="8.9" textLength="90.83" lengthAdjust="spacingAndGlyphs" fill="#111">fitted&#160;line&#160;(calibrated)</text>
<text x="385.6" y="302.9" font-family="Liberation Serif, serif" font-size="20.4" fill="#000">d)</text>
</g></svg></div></body></html>
